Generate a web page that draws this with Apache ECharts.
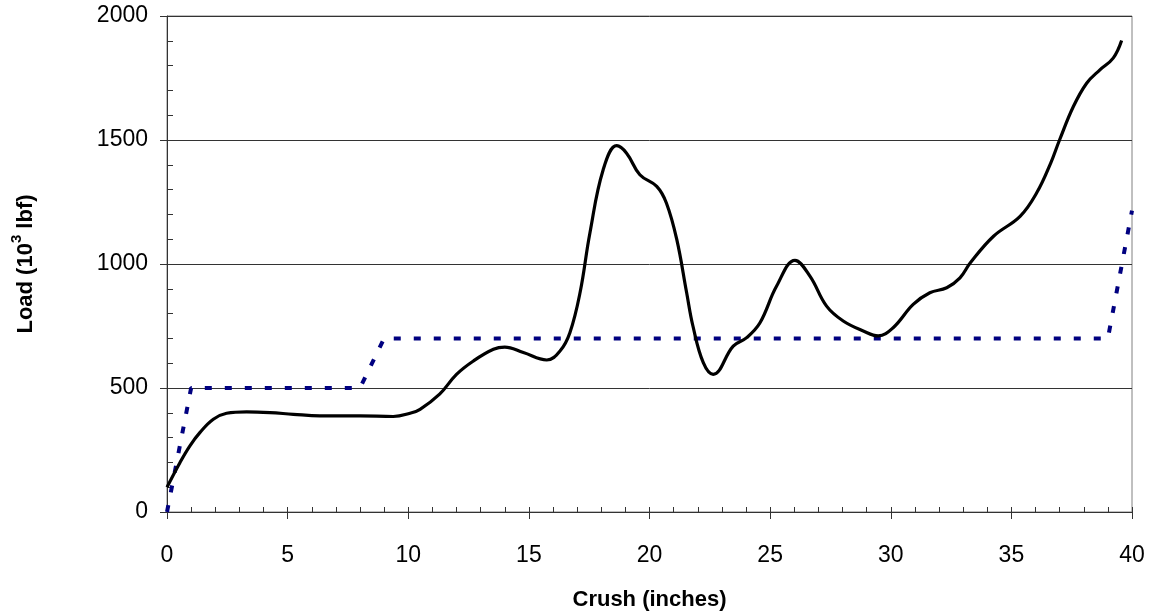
<!DOCTYPE html>
<html>
<head>
<meta charset="utf-8">
<script src="https://cdn.jsdelivr.net/npm/echarts@6/dist/echarts.min.js"></script>
<style>html,body{margin:0;padding:0;background:#fff}#c{width:1150px;height:616px}</style>
</head>
<body>
<div id="c"></div>
<script>
// Measured crush-load curve
const crushX = [0, 0.54, 0.95, 1.37, 1.92, 2.47, 3.3, 4.27, 5.24, 6.34, 8.0, 9.38, 10.07, 10.49, 11.3, 12.0, 12.7, 13.53, 14.0, 14.77, 15.74, 16.29, 16.7, 17.12, 17.53, 18.08, 18.64, 19.05, 19.6, 20.3, 20.7, 21.13, 21.54, 21.8, 22.23, 22.64, 23.47, 24.03, 24.58, 25.27, 26.03, 26.65, 27.34, 28.03, 28.86, 29.48, 30.1, 30.93, 31.62, 32.32, 32.87, 33.3, 34.26, 35.36, 36.05, 36.63, 37.0, 37.57, 38.12, 38.67, 39.22, 39.57];
const loadY  = [100, 200, 267, 321, 374, 398, 404, 401, 394, 388, 388, 385, 398, 414, 475, 555, 609, 656, 665, 643, 613, 649, 723, 884, 1125, 1380, 1477, 1447, 1360, 1313, 1246, 1099, 884, 750, 602, 555, 669, 703, 763, 911, 1015, 951, 830, 770, 730, 710, 743, 837, 884, 904, 944, 1005, 1112, 1192, 1287, 1407, 1501, 1635, 1729, 1783, 1830, 1901];
// Design (dashed) curve
const designX = [0, 1, 8, 9, 39, 40];
const designY = [0, 500, 500, 700, 700, 1215];
// Axis settings
const xMin = 0, xMax = 40, xStep = 5;
const yMin = 0, yMax = 2000, yStep = 500;

const crushData = crushX.map((x, i) => [x, loadY[i]]);
const designData = designX.map((x, i) => [x, designY[i]]);

const FONT = 'Liberation Sans, Arial, sans-serif';
const axisCol = '#333';
const plain = v => String(v);

const chart = echarts.init(document.getElementById('c'), null, {renderer: 'canvas'});
chart.setOption({
  animation: false,
  backgroundColor: '#fff',
  grid: {left: 167, right: 18, top: 16, bottom: 103, show: true, borderColor: '#808080', borderWidth: 1},
  xAxis: [{
    type: 'value', min: xMin, max: xMax, interval: xStep, position: 'bottom',
    name: 'Crush (inches)', nameLocation: 'middle', nameGap: 77,
    nameTextStyle: {fontFamily: FONT, fontSize: 22, fontWeight: 'bold', color: '#000'},
    axisLine: {show: true, lineStyle: {color: axisCol, width: 1}},
    axisTick: {show: true, inside: false, length: 7, lineStyle: {color: axisCol}},
    axisLabel: {fontFamily: FONT, fontSize: 23, color: '#000', margin: 32, formatter: plain},
    splitLine: {show: false}
  }, {
    type: 'value', min: xMin, max: xMax, interval: xStep, position: 'bottom',
    axisLine: {show: false},
    axisTick: {show: true, inside: true, length: 5, lineStyle: {color: axisCol}},
    minorTick: {show: true, splitNumber: 5, length: 5, lineStyle: {color: axisCol}},
    axisLabel: {show: false},
    splitLine: {show: false}
  }],
  yAxis: [{
    type: 'value', min: yMin, max: yMax, interval: yStep, position: 'left',
    name: 'Load (10{sup|3} lbf)', nameLocation: 'middle', nameGap: 125, nameRotate: 90,
    nameTextStyle: {fontFamily: FONT, fontSize: 22, fontWeight: 'bold', color: '#000',
      rich: {sup: {fontFamily: FONT, fontSize: 15, fontWeight: 'bold', color: '#000', verticalAlign: 'top', padding: [0, 0, 18, 0]}}},
    axisLine: {show: true, lineStyle: {color: axisCol, width: 1}},
    axisTick: {show: true, inside: false, length: 7, lineStyle: {color: axisCol}},
    axisLabel: {fontFamily: FONT, fontSize: 23, color: '#000', margin: 19, formatter: plain, padding: [7, 0, 0, 0]},
    splitLine: {show: true, lineStyle: {color: '#333', width: 1}}
  }, {
    type: 'value', min: yMin, max: yMax, interval: yStep, position: 'left',
    axisLine: {show: false},
    axisTick: {show: true, inside: true, length: 6, lineStyle: {color: axisCol}},
    minorTick: {show: true, splitNumber: 5, length: 6, lineStyle: {color: axisCol}},
    axisLabel: {show: false},
    splitLine: {show: false}
  }],
  series: [{
    type: 'line', xAxisIndex: 0, yAxisIndex: 0, data: designData,
    showSymbol: false, symbol: 'none',
    lineStyle: {color: '#000080', width: 4, type: [7, 13], cap: 'butt'}
  }, {
    type: 'line', xAxisIndex: 0, yAxisIndex: 0, data: crushData,
    showSymbol: false, symbol: 'none', smooth: 0.4,
    lineStyle: {color: '#000', width: 3.2}
  }]
});
</script>
</body>
</html>
